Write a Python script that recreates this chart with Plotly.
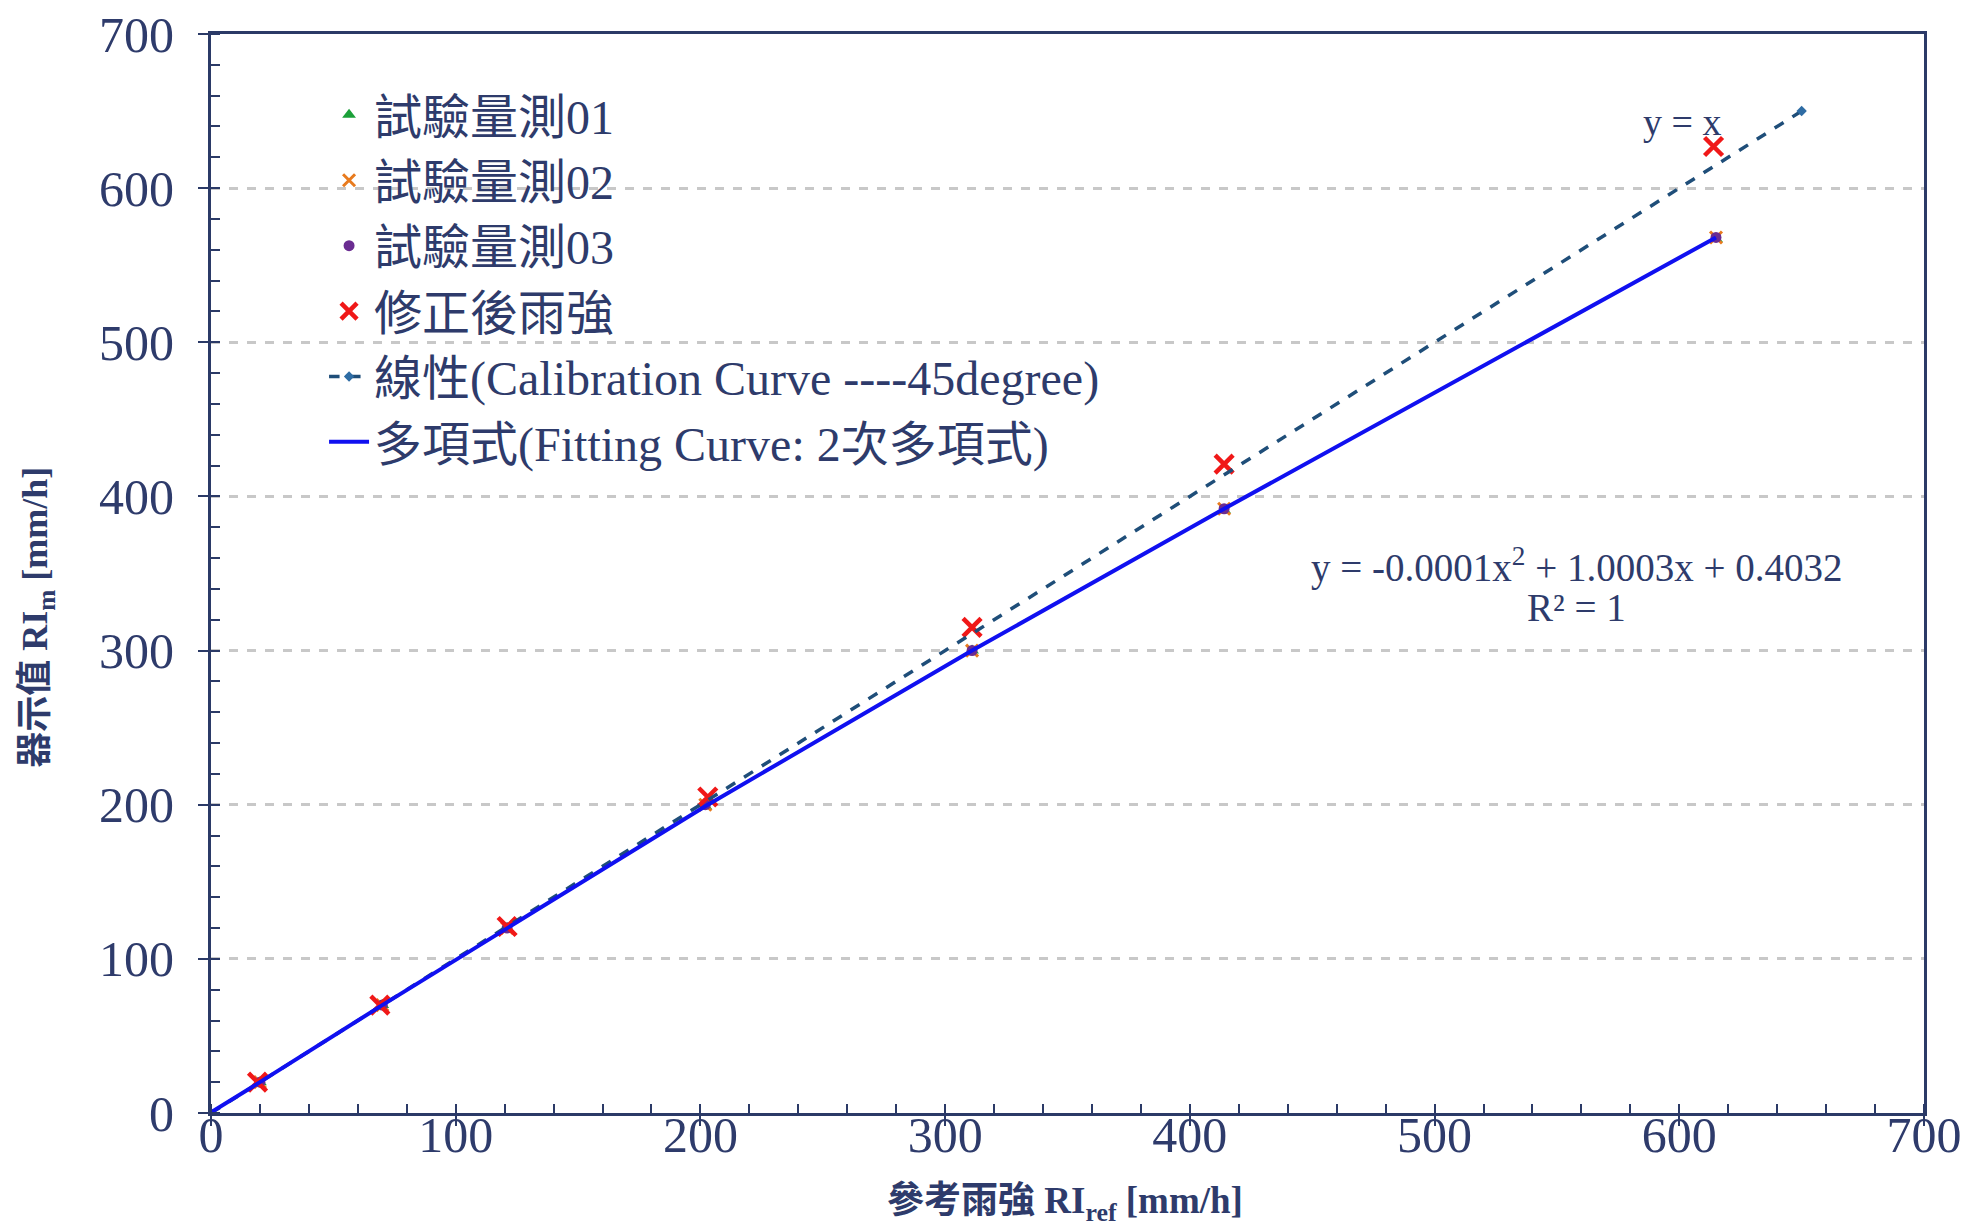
import plotly.graph_objects as go

# ---- data ----
ref_x = [20, 70, 121, 202, 311, 414, 615]
meas01 = [20, 70, 120, 199, 300, 391, 567]
meas02 = [20, 70, 120, 200, 300, 392, 568]
meas03 = [20, 70, 120, 200, 300, 392, 568]
corrected_x = [19, 69, 121, 203, 311, 414, 614]
corrected_y = [20, 70, 121, 205, 315, 421, 627]
line45_x = [0, 650]
line45_y = [0, 650]
fit_x = [0, 20, 70, 121, 202, 311, 414, 615]
fit_y = [0.4, 20, 70, 120, 199, 300, 392, 568]
x_ticks = [0, 100, 200, 300, 400, 500, 600, 700]
y_ticks = [0, 100, 200, 300, 400, 500, 600, 700]

FONT = "Liberation Serif, 'Noto Sans CJK TC', serif"
TXT = "#2E3B6B"
AX = "#2B3A67"

fig = go.Figure()
fig.add_trace(go.Scatter(x=ref_x, y=meas01, mode="markers", name="試驗量測01",
                         marker=dict(symbol="triangle-up", size=12, color="#1BA039")))
fig.add_trace(go.Scatter(x=ref_x, y=meas02, mode="markers", name="試驗量測02",
                         marker=dict(symbol="x-thin", size=12, line=dict(width=3, color="#E87B1E"), color="#E87B1E")))
fig.add_trace(go.Scatter(x=ref_x, y=meas03, mode="markers", name="試驗量測03",
                         marker=dict(symbol="circle", size=11, color="#6A2C91")))
fig.add_trace(go.Scatter(x=corrected_x, y=corrected_y, mode="markers", name="修正後雨強",
                         marker=dict(symbol="x-thin", size=18, line=dict(width=4.5, color="#F01818"), color="#F01818")))
fig.add_trace(go.Scatter(x=line45_x, y=line45_y, mode="lines+markers",
                         name="線性(Calibration Curve ----45degree)",
                         line=dict(color="#1F4E79", width=3.5, dash="dash"),
                         marker=dict(symbol="diamond", size=8, color="#2E6CA4")))
fig.add_trace(go.Scatter(x=fit_x, y=fit_y, mode="lines", name="多項式(Fitting Curve: 2次多項式)",
                         line=dict(color="#1010F0", width=4)))

fig.add_annotation(x=601, y=643, text="y = x", showarrow=False, xref="x", yref="y",
                   font=dict(family=FONT, size=38, color=TXT))
fig.add_annotation(x=558, y=355, text="y = -0.0001x<sup>2</sup> + 1.0003x + 0.4032", showarrow=False,
                   xref="x", yref="y", font=dict(family=FONT, size=39, color=TXT))
fig.add_annotation(x=558, y=328, text="R² = 1", showarrow=False,
                   xref="x", yref="y", font=dict(family=FONT, size=39, color=TXT))
# axis titles
fig.add_annotation(x=0.4985, y=-0.084, xref="paper", yref="paper", showarrow=False,
                   xanchor="center", yanchor="middle",
                   text="<b>參考雨強 RI<sub>ref</sub> [mm/h]</b>",
                   font=dict(family=FONT, size=37, color=TXT))
fig.add_annotation(x=-0.101, y=0.46, xref="paper", yref="paper", showarrow=False, textangle=-90,
                   xanchor="center", yanchor="middle",
                   text="<b>器示值 RI<sub>m</sub> [mm/h]</b>",
                   font=dict(family=FONT, size=36, color=TXT))

fig.update_layout(
    width=1969, height=1231,
    margin=dict(l=211, r=45, t=34, b=118),
    paper_bgcolor="white", plot_bgcolor="white",
    font=dict(family=FONT, color=TXT, size=40),
    legend=dict(x=0.066, y=0.96, xanchor="left", yanchor="top",
                bgcolor="rgba(0,0,0,0)", font=dict(family=FONT, size=48, color=TXT),
                itemwidth=40, tracegroupgap=0),
    showlegend=True,
)
fig.update_xaxes(range=[0, 700], tickvals=x_ticks, ticktext=[str(v) for v in x_ticks],
                 automargin=False,
                 showgrid=False, zeroline=False,
                 showline=True, linecolor=AX, linewidth=3, mirror=True,
                 ticks="outside", ticklen=10, tickwidth=2, tickcolor=AX,
                 ticklabelstandoff=-34,
                 minor=dict(dtick=20, ticks="inside", ticklen=9, tickwidth=2, tickcolor=AX, showgrid=False),
                 tickfont=dict(family=FONT, size=50, color=TXT))
fig.update_yaxes(range=[0, 700], tickvals=y_ticks, ticktext=[str(v) for v in y_ticks],
                 automargin=False,
                 showgrid=True, gridcolor="#C8C8C8", griddash="dash", gridwidth=3,
                 zeroline=False,
                 showline=True, linecolor=AX, linewidth=3, mirror=True,
                 ticks="outside", ticklen=10, tickwidth=2, tickcolor=AX,
                 ticklabelstandoff=14,
                 minor=dict(dtick=20, ticks="inside", ticklen=9, tickwidth=2, tickcolor=AX, showgrid=False),
                 tickfont=dict(family=FONT, size=50, color=TXT))

fig.write_html("out.html")
